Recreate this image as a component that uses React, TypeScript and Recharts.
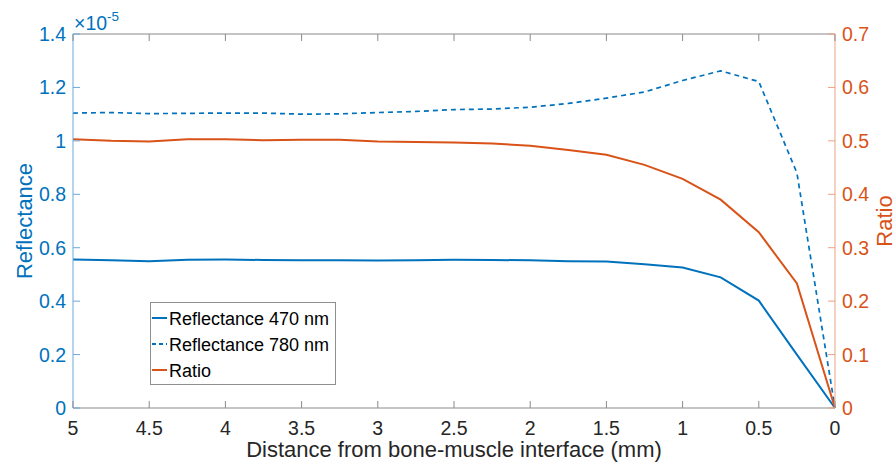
import React from 'react';
import { ComposedChart, Line, XAxis, YAxis, Legend } from 'recharts';

// distance from bone-muscle interface (mm)
const distance = [5, 4.75, 4.5, 4.25, 4, 3.75, 3.5, 3.25, 3, 2.75, 2.5, 2.25, 2, 1.75, 1.5, 1.25, 1, 0.75, 0.5, 0.25, 0];
// reflectance values in units of 1e-5
const reflectance470 = [0.556, 0.553, 0.549, 0.555, 0.556, 0.554, 0.553, 0.553, 0.552, 0.553, 0.555, 0.554, 0.553, 0.549, 0.548, 0.538, 0.526, 0.489, 0.402, 0.2, 0];
const reflectance780 = [1.104, 1.106, 1.102, 1.103, 1.104, 1.104, 1.1, 1.101, 1.106, 1.11, 1.117, 1.119, 1.126, 1.14, 1.16, 1.183, 1.226, 1.262, 1.222, 0.88, 0];
const ratio = [0.503, 0.5, 0.499, 0.503, 0.503, 0.501, 0.502, 0.502, 0.499, 0.498, 0.497, 0.495, 0.491, 0.483, 0.474, 0.455, 0.429, 0.39, 0.329, 0.233, 0];

const xTicks = [0, 0.5, 1, 1.5, 2, 2.5, 3, 3.5, 4, 4.5, 5];
const leftTicks = [0, 0.2, 0.4, 0.6, 0.8, 1, 1.2, 1.4];
const rightTicks = [0, 0.1, 0.2, 0.3, 0.4, 0.5, 0.6, 0.7];
const seriesNames = ['Reflectance 470 nm', 'Reflectance 780 nm', 'Ratio'];
const xLabel = 'Distance from bone-muscle interface (mm)';
const leftLabel = 'Reflectance';
const rightLabel = 'Ratio';

const data = distance.map((d, i) => ({
  distance: d,
  r470: reflectance470[i],
  r780: reflectance780[i],
  ratio: ratio[i],
}));

const BLUE = '#0072BD';
const ORANGE = '#D95319';
const BLUE_LINE = '#6ea8da';
const ORANGE_LINE = '#eda183';
const GRAY_LINE = '#8a8a8a';
const TEXT = '#262626';
const FONT = "'Liberation Sans', Arial, Helvetica, sans-serif";
const TICK_FS = 19.5;

const BottomTick = (props: any) => {
  const { x, y, payload } = props;
  return (
    <g>
      <line x1={x} x2={x} y1={y} y2={y - 7} stroke={GRAY_LINE} strokeWidth={1} />
      <text x={x} y={y + 27} textAnchor="middle" fill={TEXT} fontSize={TICK_FS} fontFamily={FONT}>
        {String(payload.value)}
      </text>
    </g>
  );
};

const TopTick = (props: any) => {
  const { x, y } = props;
  return <line x1={x} x2={x} y1={y} y2={y + 7} stroke={GRAY_LINE} strokeWidth={1} />;
};

const LeftTick = (props: any) => {
  const { x, y, payload } = props;
  return (
    <g>
      <line x1={x} x2={x + 7} y1={y} y2={y} stroke={BLUE_LINE} strokeWidth={1} />
      <text x={x - 7} y={y} dy={7} textAnchor="end" fill={BLUE} fontSize={TICK_FS} fontFamily={FONT}>
        {String(payload.value)}
      </text>
    </g>
  );
};

const RightTick = (props: any) => {
  const { x, y, payload } = props;
  return (
    <g>
      <line x1={x} x2={x - 7} y1={y} y2={y} stroke={ORANGE_LINE} strokeWidth={1} />
      <text x={x + 7} y={y} dy={7} textAnchor="start" fill={ORANGE} fontSize={TICK_FS} fontFamily={FONT}>
        {String(payload.value)}
      </text>
    </g>
  );
};

const ExponentLabel = (props: any) => {
  const vb = props.viewBox || { x: 73, y: 0, width: 762, height: 34 };
  return (
    <text x={vb.x + 1} y={vb.y + 29.5} fill={BLUE} fontSize={19.5} fontFamily={FONT}>
      ×10
      <tspan fontSize={13.5} dy={-8.5}>-5</tspan>
    </text>
  );
};

const XTitle = (props: any) => {
  const vb = props.viewBox || { x: 73, y: 408, width: 762, height: 62 };
  return (
    <text x={vb.x + vb.width / 2} y={vb.y + 49} textAnchor="middle" fill={TEXT} fontSize={22} fontFamily={FONT}>
      {xLabel}
    </text>
  );
};

const LeftTitle = (props: any) => {
  const vb = props.viewBox || { x: 0, y: 34, width: 73, height: 374 };
  const cx = vb.x + 24;
  const cy = vb.y + vb.height / 2;
  return (
    <text x={cx} y={cy} transform={`rotate(-90 ${cx} ${cy})`} textAnchor="middle" dominantBaseline="central" fill={BLUE} fontSize={22} fontFamily={FONT}>
      {leftLabel}
    </text>
  );
};

const RightTitle = (props: any) => {
  const vb = props.viewBox || { x: 835, y: 34, width: 61, height: 374 };
  const cx = vb.x + 49;
  const cy = vb.y + vb.height / 2;
  return (
    <text x={cx} y={cy} transform={`rotate(-90 ${cx} ${cy})`} textAnchor="middle" dominantBaseline="central" fill={ORANGE} fontSize={22} fontFamily={FONT}>
      {rightLabel}
    </text>
  );
};

const legendStyles = [
  { color: BLUE, dash: undefined as string | undefined },
  { color: BLUE, dash: '4 3' },
  { color: ORANGE, dash: undefined as string | undefined },
];

const LegendBox = () => (
  <svg width={186} height={83} style={{ display: 'block' }}>
    <rect x={0.5} y={0.5} width={185} height={82} fill="#ffffff" stroke="#8f8f8f" strokeWidth={1} />
    {seriesNames.map((name, i) => {
      const cy = 16 + i * 26;
      const s = legendStyles[i];
      return (
        <g key={name}>
          <line x1={2} x2={17} y1={cy} y2={cy} stroke={s.color} strokeWidth={2} strokeDasharray={s.dash} />
          <text x={19} y={cy} dy={6.5} fill="#000000" fontSize={18} fontFamily={FONT}>
            {name}
          </text>
        </g>
      );
    })}
  </svg>
);

export default function App() {
  return (
    <div style={{ position: 'absolute', left: 0, top: 0, width: 896, height: 470, background: '#ffffff' }}>
      <ComposedChart width={896} height={470} data={data} margin={{ top: 0, right: 0, bottom: 0, left: 0 }}>
        <XAxis
          xAxisId="bottom"
          type="number"
          dataKey="distance"
          domain={[0, 5]}
          reversed
          ticks={xTicks}
          interval={0}
          height={62}
          tickSize={0}
          tickMargin={0}
          tickLine={false}
          axisLine={{ stroke: GRAY_LINE, strokeWidth: 1 }}
          tick={<BottomTick />}
          label={{ content: <XTitle /> }}
        />
        <XAxis
          xAxisId="top"
          orientation="top"
          type="number"
          dataKey="distance"
          domain={[0, 5]}
          reversed
          ticks={xTicks}
          interval={0}
          height={34}
          tickSize={0}
          tickMargin={0}
          tickLine={false}
          axisLine={{ stroke: GRAY_LINE, strokeWidth: 1 }}
          tick={<TopTick />}
          label={{ content: <ExponentLabel /> }}
        />
        <YAxis
          yAxisId="left"
          orientation="left"
          type="number"
          domain={[0, 1.4]}
          ticks={leftTicks}
          interval={0}
          width={73}
          tickSize={0}
          tickMargin={0}
          tickLine={false}
          axisLine={{ stroke: BLUE_LINE, strokeWidth: 1 }}
          tick={<LeftTick />}
          label={{ content: <LeftTitle /> }}
        />
        <YAxis
          yAxisId="right"
          orientation="right"
          type="number"
          domain={[0, 0.7]}
          ticks={rightTicks}
          interval={0}
          width={61}
          tickSize={0}
          tickMargin={0}
          tickLine={false}
          axisLine={{ stroke: ORANGE_LINE, strokeWidth: 1 }}
          tick={<RightTick />}
          label={{ content: <RightTitle /> }}
        />
        <Line xAxisId="bottom" yAxisId="left" type="linear" dataKey="r470" name={seriesNames[0]} stroke={BLUE} strokeWidth={2} dot={false} isAnimationActive={false} />
        <Line xAxisId="bottom" yAxisId="left" type="linear" dataKey="r780" name={seriesNames[1]} stroke={BLUE} strokeWidth={1.7} strokeDasharray="5 4" dot={false} isAnimationActive={false} />
        <Line xAxisId="bottom" yAxisId="right" type="linear" dataKey="ratio" name={seriesNames[2]} stroke={ORANGE} strokeWidth={2} dot={false} isAnimationActive={false} />
        <Legend
          layout="vertical"
          align="center"
          verticalAlign="middle"
          content={<LegendBox />}
          wrapperStyle={{ left: 150, top: 302, width: 186, height: 83 }}
        />
      </ComposedChart>
    </div>
  );
}
